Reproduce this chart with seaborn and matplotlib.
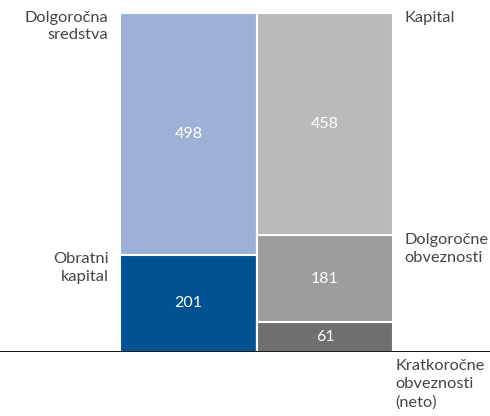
import numpy as np
import pandas as pd
import matplotlib
matplotlib.use("Agg")
import matplotlib.pyplot as plt
import seaborn as sns

# data
sides = ["Sredstva", "Viri"]
left_labels = ["Obratni\nkapital", "Dolgoročna\nsredstva"]
left_values = [201, 498]
right_labels = ["Kratkoročne\nobveznosti\n(neto)", "Dolgoročne\nobveznosti", "Kapital"]
right_values = [61, 181, 458]

left_colors = ["#005293", "#9cb1d5"]
right_colors = ["#6f6f6f", "#9d9d9c", "#bababa"]

sns.set_theme(style="white")
plt.rcParams["font.family"] = ["Lato", "DejaVu Sans"]

fig = plt.figure(figsize=(4.9, 4.16), dpi=100)
ax = fig.add_axes([0, 0.1538, 1, 0.815])

txt = "#454545"

def stack(side, values, colors):
    cum = np.cumsum(values)
    # draw tallest first so lower segments sit on top of it
    for i in range(len(values) - 1, -1, -1):
        df = pd.DataFrame({"side": [side], "top": [cum[i]]})
        sns.barplot(data=df, x="side", y="top", order=sides, color=colors[i],
                    width=1.0, edgecolor="white", linewidth=1.5,
                    saturation=1, ax=ax)
    return cum

lcum = stack(sides[0], left_values, left_colors)
rcum = stack(sides[1], right_values, right_colors)

# value labels
for cum, vals, x in [(lcum, left_values, 0), (rcum, right_values, 1)]:
    for c, v in zip(cum, vals):
        ax.text(x, c - v / 2, str(v), ha="center", va="center",
                color="white", fontsize=11.5)

# segment names
for c, lab in zip(lcum, left_labels):
    ax.text(-0.585, c + 6, lab, ha="right", va="top", color=txt,
            fontsize=11.8, linespacing=1.35)
rpos = [(1.515, -15), (1.585, rcum[1] + 3), (1.585, rcum[2] + 5)]
for (x, y), lab in zip(rpos, right_labels):
    ax.text(x, y, lab, ha="left", va="top", color=txt, fontsize=11.8,
            linespacing=1.35, clip_on=False)

ax.axhline(0, color="#1a1a1a", lw=2.2, zorder=5)

ax.set_xlim(-1.381, 2.209)
ax.set_ylim(0, 700)
ax.set_axis_off()

fig.savefig("out.png", dpi=100)
